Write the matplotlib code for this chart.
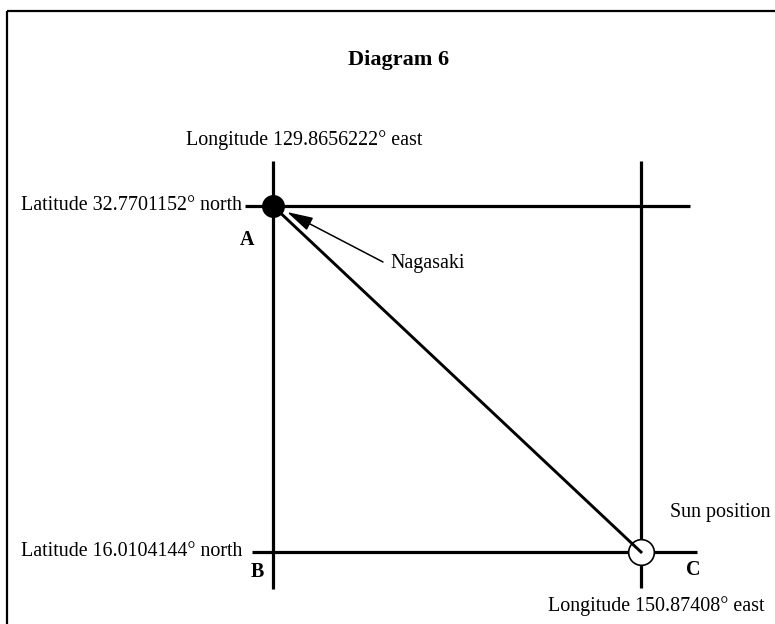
import matplotlib
matplotlib.use("Agg")
import matplotlib.pyplot as plt
from matplotlib.patches import FancyArrowPatch

# ---- data (geographic positions from the diagram) ----
lon_nagasaki = 129.8656222
lat_nagasaki = 32.7701152
lon_sun = 150.87408
lat_sun = 16.0104144
point_labels = ["A", "B", "C"]
title = "Diagram 6"

# ---- layout (pixels) ----
W, H = 775, 624
px_A, px_C = 273, 641
py_A, py_B = 206, 552

sx = (px_C - px_A) / (lon_sun - lon_nagasaki)
sy = (py_B - py_A) / (lat_nagasaki - lat_sun)

def X(px):
    return lon_nagasaki + (px - px_A) / sx

def Y(py):
    return lat_nagasaki - (py - py_A) / sy

plt.rcParams['font.family'] = ['Liberation Serif', 'DejaVu Serif']

fig = plt.figure(figsize=(W / 100, H / 100), dpi=100)
ax = fig.add_axes([0, 0, 1, 1])
ax.set_xlim(X(0), X(W))
ax.set_ylim(Y(H), Y(0))
ax.axis('off')

lw = 2.3
# frame (left and top edges visible)
ax.plot([X(7), X(7)], [Y(11), Y(H + 5)], color='black', lw=1.6, solid_capstyle='butt')
ax.plot([X(7), X(W + 5)], [Y(11), Y(11)], color='black', lw=1.6, solid_capstyle='butt')

# vertical longitude lines
ax.plot([lon_nagasaki, lon_nagasaki], [Y(161), Y(589)], color='black', lw=lw, solid_capstyle='butt')
ax.plot([lon_sun, lon_sun], [Y(161), Y(588)], color='black', lw=lw, solid_capstyle='butt')
# horizontal latitude lines
ax.plot([X(245), X(690)], [lat_nagasaki, lat_nagasaki], color='black', lw=lw, solid_capstyle='butt')
ax.plot([X(252), X(697)], [lat_sun, lat_sun], color='black', lw=lw, solid_capstyle='butt')

# Sun circle
ax.plot([lon_sun], [lat_sun], 'o', markerfacecolor='white', markeredgecolor='black',
        markeredgewidth=1.2, markersize=18.5, zorder=2)
# diagonal
ax.plot([lon_nagasaki, lon_sun], [lat_nagasaki, lat_sun], color='black', lw=2.1, zorder=3)
# Nagasaki dot
ax.plot([lon_nagasaki], [lat_nagasaki], 'o', color='black', markersize=15.5, zorder=5)

# arrow to Nagasaki
arr = FancyArrowPatch((X(383), Y(262)), (X(287), Y(212)),
                      arrowstyle='-|>,head_length=16,head_width=4.3',
                      color='black', lw=1.1, mutation_scale=1,
                      shrinkA=0, shrinkB=0, zorder=6)
ax.add_patch(arr)

fs = 14.4
ax.text(X(399), Y(60), title, fontsize=16, fontweight='bold', ha='center', va='center')
ax.text(X(186), Y(140), f"Longitude {lon_nagasaki:.7f}\u00b0 east", fontsize=fs, ha='left', va='center')
ax.text(X(242), Y(206), f"Latitude {lat_nagasaki:.7f}\u00b0 north", fontsize=fs, ha='right', va='center')
ax.text(X(247), Y(240), point_labels[0], fontsize=fs, fontweight='bold', ha='center', va='center')
ax.text(X(390), Y(264), "Nagasaki", fontsize=fs, ha='left', va='center')
ax.text(X(670), Y(512), "Sun position", fontsize=fs, ha='left', va='center')
ax.text(X(242), Y(552), f"Latitude {lat_sun:.7f}\u00b0 north", fontsize=fs, ha='right', va='center')
ax.text(X(257), Y(572), point_labels[1], fontsize=fs, fontweight='bold', ha='center', va='center')
ax.text(X(693), Y(570), point_labels[2], fontsize=fs, fontweight='bold', ha='center', va='center')
ax.text(X(764), Y(606), f"Longitude {lon_sun:.5f}\u00b0 east", fontsize=fs, ha='right', va='center')

fig.savefig("out.png", dpi=100)
